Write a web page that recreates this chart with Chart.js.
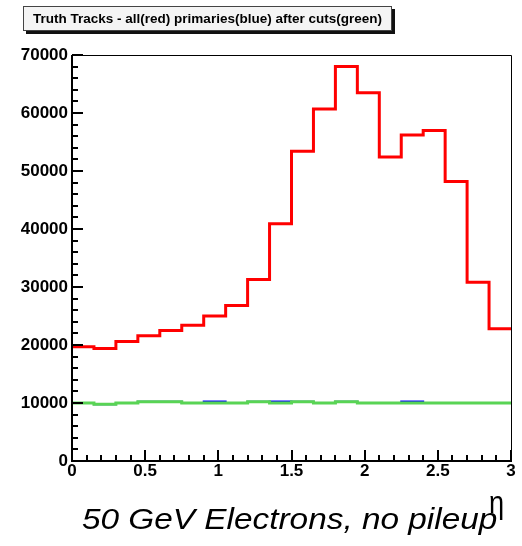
<!DOCTYPE html>
<html>
<head>
<meta charset="utf-8">
<script src="https://cdn.jsdelivr.net/npm/chart.js@4.4.1/dist/chart.umd.min.js"></script>
<style>
  body { margin: 0; background: #ffffff; }
  #wrap { position: relative; width: 522px; height: 546px; overflow: hidden; }
  #wrap canvas { position: absolute; left: 0; top: 0; }
  #titleBox {
    position: absolute; left: 23px; top: 6px; width: 367px; height: 23px;
    background: #f4f4f4; border: 1px solid #444; box-shadow: 3px 3px 0 #111;
    font: bold 13.5px "Liberation Sans", Arial, sans-serif; color: #000;
    line-height: 23px; text-align: center; white-space: nowrap;
  }
  #etaLabel {
    position: absolute; left: 489px; top: 484px; line-height: normal;
    font: 32px "Liberation Sans", Arial, sans-serif; color: #000;
    transform: scaleX(0.85); transform-origin: 0 0;
  }
  #caption {
    position: absolute; left: 82px; top: 503px; white-space: nowrap; line-height: normal;
    font: italic 29px "Liberation Sans", Arial, sans-serif; color: #000;
    transform: scaleX(1.15); transform-origin: 0 0;
  }
</style>
</head>
<body>
<div id="wrap">
  <canvas id="etaChart" width="522" height="546"></canvas>
  <div id="titleBox">Truth Tracks - all(red) primaries(blue) after cuts(green)</div>
  <div id="etaLabel">η</div>
  <div id="caption">50 GeV Electrons, no pileup</div>
</div>
<script>
// ============================================================
// HISTOGRAM DATA (eta bins, width 0.15)
// ============================================================

const binLowEdges = [0, 0.15, 0.3, 0.45, 0.6, 0.75, 0.9, 1.05, 1.2, 1.35,
                     1.5, 1.65, 1.8, 1.95, 2.1, 2.25, 2.4, 2.55, 2.7, 2.85];
const etaMax = 3;

const allTracks = [19700, 19400, 20600, 21600, 22500, 23400, 25000, 26800, 31300, 40900,
                   53400, 60700, 68000, 63500, 52400, 56200, 57000, 48200, 30800, 22800];

const primaryTracks = [10000, 9780, 9980, 10220, 10220, 10000, 10280, 10000, 10220, 10280,
                       10220, 10000, 10220, 10000, 10000, 10280, 10000, 10000, 10000, 10000];

const cutTracks = [10000, 9780, 9980, 10220, 10220, 10000, 10000, 10000, 10220, 10000,
                   10220, 10000, 10220, 10000, 10000, 10000, 10000, 10000, 10000, 10000];

const yTicks = [0, 10000, 20000, 30000, 40000, 50000, 60000, 70000];
const xTicks = [0, 0.5, 1, 1.5, 2, 2.5, 3];

// step histogram: one point per low edge, plus closing point at the upper edge
function toSteps(values) {
  const pts = binLowEdges.map((x, i) => ({ x: x, y: values[i] }));
  pts.push({ x: etaMax, y: values[values.length - 1] });
  return pts;
}

// ROOT-like frame with inward tick marks
const rootFrame = {
  id: "rootFrame",
  afterDraw(chart) {
    const c = chart.ctx;
    const a = chart.chartArea;
    const xs = chart.scales.x;
    const ys = chart.scales.y;
    c.save();
    c.strokeStyle = "#000";

    c.lineWidth = 1;
    c.beginPath();
    c.moveTo(a.left, a.top + 0.5);
    c.lineTo(a.right + 0.5, a.top + 0.5);
    c.lineTo(a.right + 0.5, a.bottom);
    c.stroke();

    c.lineWidth = 2;
    c.beginPath();
    c.moveTo(a.left, a.top);
    c.lineTo(a.left, a.bottom);
    c.lineTo(a.right + 1, a.bottom);
    c.stroke();

    for (let v = 0; v <= 70000; v += 2000) {
      const y = Math.round(ys.getPixelForValue(v));
      const len = v % 10000 === 0 ? 11 : 6;
      c.beginPath();
      c.moveTo(a.left, y);
      c.lineTo(a.left + len, y);
      c.stroke();
    }
    for (let i = 0; i <= 30; i++) {
      const x = Math.round(xs.getPixelForValue(i / 10));
      const len = i % 5 === 0 ? 11 : 6;
      c.beginPath();
      c.moveTo(x, a.bottom);
      c.lineTo(x, a.bottom - len);
      c.stroke();
    }
    c.restore();
  }
};

const ctx = document.getElementById("etaChart").getContext("2d");

new Chart(ctx, {
  type: "line",
  data: {
    datasets: [
      {
        label: "after cuts",
        data: toSteps(cutTracks),
        borderColor: "#59d454",
        borderWidth: 3,
        stepped: "before",
        pointRadius: 0,
        fill: false,
        order: 0
      },
      {
        label: "primaries",
        data: toSteps(primaryTracks),
        borderColor: "#0000ff",
        borderWidth: 2,
        stepped: "before",
        pointRadius: 0,
        fill: false,
        order: 1
      },
      {
        label: "all",
        data: toSteps(allTracks),
        borderColor: "#ff0000",
        borderWidth: 3,
        stepped: "before",
        pointRadius: 0,
        fill: false,
        order: 2
      }
    ]
  },
  options: {
    responsive: false,
    animation: false,
    devicePixelRatio: 1,
    layout: { padding: { top: 55, right: 11, left: 0, bottom: 0 } },
    plugins: {
      legend: { display: false },
      tooltip: { enabled: false }
    },
    scales: {
      x: {
        type: "linear",
        min: 0,
        max: etaMax,
        afterFit(scale) { scale.height = 85; },
        afterBuildTicks(scale) { scale.ticks = xTicks.map(v => ({ value: v })); },
        grid: { display: false, drawTicks: false },
        border: { display: false },
        ticks: {
          padding: 0,
          maxRotation: 0,
          autoSkip: false,
          color: "#000",
          font: { family: "Liberation Sans", size: 17, weight: "bold" },
          callback: v => String(v)
        }
      },
      y: {
        min: 0,
        max: 70000,
        afterFit(scale) { scale.width = 72; },
        afterBuildTicks(scale) { scale.ticks = yTicks.map(v => ({ value: v })); },
        grid: { display: false, drawTicks: false },
        border: { display: false },
        ticks: {
          padding: 4,
          autoSkip: false,
          color: "#000",
          font: { family: "Liberation Sans", size: 17, weight: "bold" },
          callback: v => String(v)
        }
      }
    }
  },
  plugins: [rootFrame]
});
</script>
</body>
</html>
